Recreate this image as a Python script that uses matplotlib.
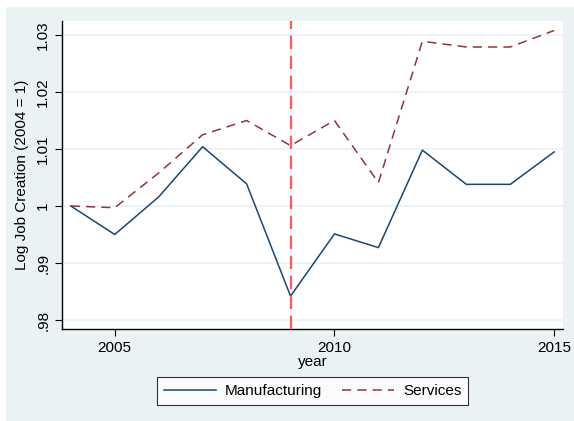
import matplotlib.pyplot as plt
from matplotlib.patches import Rectangle

plt.rcParams['font.family'] = ['Liberation Sans', 'DejaVu Sans']

years = [2004, 2005, 2006, 2007, 2008, 2009, 2010, 2011, 2012, 2013, 2014, 2015]
manufacturing = [1.0000, 0.9950, 1.0016, 1.0104, 1.0039, 0.9842,
                 0.9951, 0.9927, 1.0098, 1.0038, 1.0038, 1.0095]
services = [1.0000, 0.9997, 1.0058, 1.0125, 1.0150, 1.0106,
            1.0150, 1.0041, 1.0289, 1.0279, 1.0279, 1.0308]
ytick_vals = [0.98, 0.99, 1.00, 1.01, 1.02, 1.03]
ytick_labels = [".98", ".99", "1", "1.01", "1.02", "1.03"]
xtick_vals = [2005, 2010, 2015]
break_year = 2009

W, H = 574, 421
fig = plt.figure(figsize=(W / 100, H / 100), dpi=100)
fig.patch.set_facecolor("white")
bg = Rectangle((6 / W, 0), 1 - 6 / W, 1 - 7 / H, transform=fig.transFigure,
               facecolor="#eaf2f3", edgecolor="none", zorder=-10)
fig.add_artist(bg)

ax = fig.add_axes([62 / W, 1 - 329 / H, (563 - 62) / W, (329 - 21) / H])
ax.set_zorder(1)
ax.set_facecolor("white")

for v in ytick_vals:
    ax.axhline(v, color="#eaf2f3", lw=1.2, zorder=1)

ax.plot(years, manufacturing, color="#1a476f", lw=1.1, label="Manufacturing", zorder=3)
ax.plot(years, services, color="#90353b", lw=1.1, ls=(0, (6, 4)), label="Services", zorder=3)
ax.axvline(break_year, color="#ff5a5a", lw=1.6, ls=(0, (6, 3)), zorder=4)

ax.set_xlim(2003.8, 2015.2)
ax.set_ylim(0.97842, 1.03246)
ax.set_xticks(xtick_vals)
ax.set_yticks(ytick_vals)
ax.set_yticklabels(ytick_labels, rotation=90, va="center")
ax.tick_params(labelsize=11, length=5, direction="out")

for s in ["top", "right"]:
    ax.spines[s].set_visible(False)
for s in ["left", "bottom"]:
    ax.spines[s].set_linewidth(1.0)

ax.set_xlabel("year", fontsize=11, labelpad=0)
ax.set_ylabel("Log Job Creation (2004 = 1)", fontsize=11, labelpad=5)

leg = ax.legend(loc="upper center", bbox_to_anchor=(0.5, -0.156), ncol=2, frameon=True,
                fancybox=False, edgecolor="black", fontsize=11, handlelength=3.4,
                handletextpad=0.6, columnspacing=1.3, borderpad=0.45, borderaxespad=0)
leg.get_frame().set_linewidth(0.8)

fig.savefig("out.png", dpi=100)
